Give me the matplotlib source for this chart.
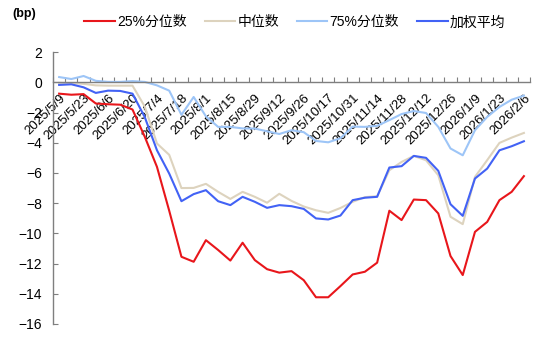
import matplotlib
matplotlib.use("Agg")
import matplotlib.pyplot as plt

plt.rcParams['font.family'] = ['Liberation Sans', 'Noto Sans CJK SC']

# weekly dates (10/3 holiday week missing)
dates = ['2025/5/9', '2025/5/16', '2025/5/23', '2025/5/30', '2025/6/6', '2025/6/13',
         '2025/6/20', '2025/6/27', '2025/7/4', '2025/7/11', '2025/7/18', '2025/7/25',
         '2025/8/1', '2025/8/8', '2025/8/15', '2025/8/22', '2025/8/29', '2025/9/5',
         '2025/9/12', '2025/9/19', '2025/9/26', '2025/10/10', '2025/10/17', '2025/10/24',
         '2025/10/31', '2025/11/7', '2025/11/14', '2025/11/21', '2025/11/28', '2025/12/5',
         '2025/12/12', '2025/12/19', '2025/12/26', '2026/1/2', '2026/1/9', '2026/1/16',
         '2026/1/23', '2026/1/30', '2026/2/6']

p25 = [-0.75, -0.82, -0.78, -1.40, -1.45, -1.48, -1.80, -3.60, -5.60, -8.50,
       -11.55, -11.88, -10.45, -11.10, -11.80, -10.62, -11.77, -12.37, -12.60, -12.50,
       -13.10, -14.23, -14.23, -13.49, -12.72, -12.54, -11.94, -8.50, -9.12, -7.76,
       -7.80, -8.68, -11.50, -12.76, -9.90, -9.24, -7.80, -7.25, -6.21]

median = [-0.03, -0.05, -0.10, -0.20, -0.22, -0.22, -0.22, -1.60, -4.05, -4.80,
          -7.00, -6.99, -6.72, -7.25, -7.72, -7.25, -7.58, -7.97, -7.38, -7.85,
          -8.22, -8.47, -8.64, -8.32, -7.91, -7.60, -7.54, -5.82, -5.27, -4.87,
          -5.16, -6.15, -8.90, -9.39, -6.26, -5.15, -4.01, -3.66, -3.35]

p75 = [0.35, 0.22, 0.42, 0.10, 0.03, 0.03, 0.08, 0.03, -0.20, -0.55,
       -2.15, -0.97, -2.25, -2.95, -2.95, -3.05, -3.06, -3.24, -3.42, -3.17,
       -3.30, -3.88, -3.97, -3.70, -2.93, -2.95, -2.88, -2.50, -2.10, -1.90,
       -2.03, -2.95, -4.38, -4.83, -3.17, -2.29, -1.63, -1.15, -0.88]

wavg = [-0.17, -0.13, -0.33, -0.70, -0.55, -0.57, -0.75, -2.30, -4.50, -6.04,
        -7.87, -7.40, -7.14, -7.87, -8.13, -7.58, -7.91, -8.31, -8.13, -8.20,
        -8.38, -9.01, -9.08, -8.82, -7.80, -7.64, -7.58, -5.64, -5.55, -4.87,
        -5.00, -5.86, -8.07, -8.84, -6.37, -5.71, -4.50, -4.23, -3.90]

names = ['25%分位数', '中位数', '75%分位数', '加权平均']
colors = ['#E8161B', '#DDD3BE', '#9DC5F7', '#4262F5']

x = list(range(len(dates)))

fig = plt.figure(figsize=(5.54, 3.43), dpi=100)
ax = fig.add_axes([0.0957, 0.0554, 0.861, 0.7926])

for ys, name, c in zip([p25, median, p75, wavg], names, colors):
    ax.plot(x, ys, color=c, lw=1.5, label=name)

ax.set_xlim(-0.5, len(dates) - 0.5)
ax.set_ylim(-16, 2)
ax.set_yticks(range(-16, 3, 2))

# category axis crossing at zero, tick marks between categories
ax.spines['bottom'].set_position(('data', 0))
ax.spines['top'].set_visible(False)
ax.spines['right'].set_visible(False)
for s in ['left', 'bottom']:
    ax.spines[s].set_color('#7F7F7F')
    ax.spines[s].set_linewidth(1.0)

ax.set_xticks([i - 0.5 for i in range(len(dates) + 1)])
ax.set_xticklabels([])
ax.set_xticks(x[::2], labels=dates[::2], minor=True)
ax.tick_params(axis='x', which='major', direction='in', length=3.5, color='#7F7F7F')
ax.tick_params(axis='x', which='minor', length=0, pad=7, labelsize=9.5)
plt.setp(ax.get_xticklabels(minor=True), rotation=45, ha='right', rotation_mode='anchor')
ax.tick_params(axis='y', direction='in', length=3.5, color='#7F7F7F', pad=8, labelsize=10)

fig.text(0.023, 0.958, '(bp)', fontsize=9, fontweight='bold', ha='left', va='center')
fig.legend(loc='center', bbox_to_anchor=(0.532, 0.935), ncol=4, frameon=False,
           fontsize=10, handlelength=2.2, handletextpad=0.15, columnspacing=1.3)

fig.savefig('out.png', dpi=100)
